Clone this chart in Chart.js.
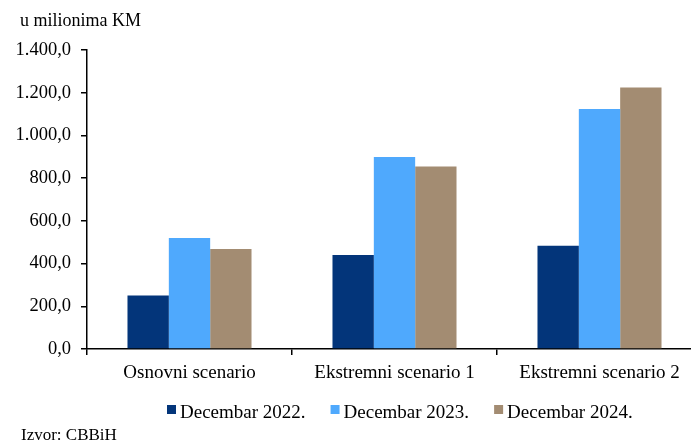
<!DOCTYPE html>
<html><head><meta charset="utf-8">
<script src="https://cdn.jsdelivr.net/npm/chart.js@4/dist/chart.umd.min.js"></script>
<style>
html,body{margin:0;padding:0;background:#fff;overflow:hidden;}
#wrap{position:relative;width:720px;height:446px;}
canvas{position:absolute;left:0;top:0;}
.note{position:absolute;font-family:"Liberation Serif",serif;font-size:18px;color:#000;white-space:nowrap;line-height:20px;}
</style></head><body>
<div id="wrap">
<canvas id="c" width="720" height="446"></canvas>
<div class="note" style="left:20px;top:10px">u milionima KM</div>
<div class="note" style="left:21px;top:425px;font-size:17px">Izvor: CBBiH</div>
</div>
<script>
const categories = ['Osnovni scenario', 'Ekstremni scenario 1', 'Ekstremni scenario 2'];
const seriesNames = ['Decembar 2022.', 'Decembar 2023.', 'Decembar 2024.'];
const dec2022 = [251, 440, 484];
const dec2023 = [520, 899, 1124];
const dec2024 = [468, 855, 1225];
const yTickLabels = ['0,0', '200,0', '400,0', '600,0', '800,0', '1.000,0', '1.200,0', '1.400,0'];
const colors = ['#03357A', '#4FA9FD', '#A38C72'];

const FONT = '"Liberation Serif", "Times New Roman", serif';
Chart.defaults.color = '#000';
Chart.defaults.font.family = FONT;
Chart.defaults.font.size = 19;

// Legend drawn under the category labels, small square markers
const bottomLegend = {
  id: 'bottomLegend',
  afterDraw(chart) {
    const ctx = chart.ctx;
    ctx.save();
    ctx.font = '19px ' + FONT;
    ctx.textBaseline = 'alphabetic';
    ctx.textAlign = 'left';
    let x = 167;
    chart.data.datasets.forEach(ds => {
      ctx.fillStyle = ds.backgroundColor;
      ctx.fillRect(x, 405, 9, 9);
      ctx.fillStyle = '#000';
      ctx.fillText(ds.label, x + 13, 418);
      x += 13 + ctx.measureText(ds.label).width + 25;
    });
    ctx.restore();
  }
};

new Chart(document.getElementById('c'), {
  type: 'bar',
  data: {
    labels: categories,
    datasets: [
      { label: seriesNames[0], data: dec2022, backgroundColor: colors[0] },
      { label: seriesNames[1], data: dec2023, backgroundColor: colors[1] },
      { label: seriesNames[2], data: dec2024, backgroundColor: colors[2] }
    ]
  },
  options: {
    responsive: false,
    animation: false,
    layout: { padding: { left: 0, right: 18, top: 50, bottom: 0 } },
    datasets: { bar: { categoryPercentage: 0.605, barPercentage: 1.0 } },
    plugins: { legend: { display: false }, tooltip: { enabled: false } },
    scales: {
      x: {
        grid: { display: true, offset: true, drawOnChartArea: false, drawTicks: true, tickLength: 6, color: '#000', lineWidth: 1.5 },
        border: { display: true, color: '#000', width: 1.5 },
        ticks: { padding: 7, maxRotation: 0, autoSkip: false, color: '#000', font: { size: 19 } },
        afterFit(scale) { scale.height = 446 - 349; }
      },
      y: {
        min: 0, max: 1400,
        ticks: {
          stepSize: 200, padding: 10, color: '#000', font: { size: 18.5 },
          callback: (v, i) => yTickLabels[i]
        },
        grid: { display: true, drawOnChartArea: false, drawTicks: true, tickLength: 6, color: '#000', lineWidth: 1.5 },
        border: { display: true, color: '#000', width: 1.5 },
        afterFit(scale) { scale.width = 87; }
      }
    }
  },
  plugins: [bottomLegend]
});
</script>
</body></html>
